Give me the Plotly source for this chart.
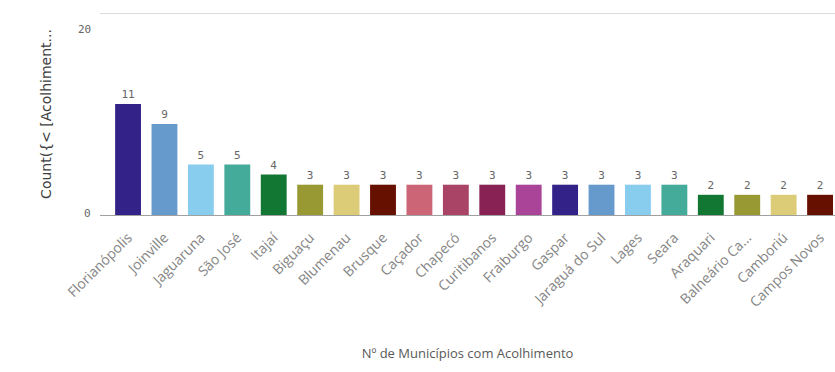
import plotly.graph_objects as go

# Municipalities and number of shelters (acolhimento) per municipality
municipios = [
    "Florianópolis", "Joinville", "Jaguaruna", "São José", "Itajaí",
    "Biguaçu", "Blumenau", "Brusque", "Caçador", "Chapecó",
    "Curitibanos", "Fraiburgo", "Gaspar", "Jaraguá do Sul", "Lages",
    "Seara", "Araquari", "Balneário Ca...", "Camboriú", "Campos Novos",
]
contagem = [11, 9, 5, 5, 4, 3, 3, 3, 3, 3, 3, 3, 3, 3, 3, 3, 2, 2, 2, 2]

y_ticks = [0, 20]
y_tick_labels = ["0", "20"]

palette = [
    "#332288", "#6699cc", "#88ccee", "#44aa99", "#117733", "#999933",
    "#ddcc77", "#661100", "#cc6677", "#aa4466", "#882255", "#aa4499",
]
bar_colors = [palette[i % len(palette)] for i in range(len(municipios))]

fig = go.Figure(
    go.Bar(
        x=list(range(len(municipios))),
        y=contagem,
        marker=dict(color=bar_colors, line=dict(width=0)),
        text=[str(v) for v in contagem],
        textposition="outside",
        textfont=dict(family="DejaVu Sans Mono", size=11, color="#666666"),
        cliponaxis=False,
        showlegend=False,
    )
)

fig.update_layout(
    width=835,
    height=372,
    margin=dict(l=100, r=0, t=13, b=157),
    paper_bgcolor="white",
    plot_bgcolor="white",
    bargap=0.29,
    font=dict(family="Open Sans", color="#595959"),
    xaxis=dict(
        range=[-0.77, 19.41],
        tickmode="array",
        tickvals=list(range(len(municipios))),
        ticktext=municipios,
        tickangle=-45,
        ticklabelstandoff=8,
        tickfont=dict(family="Open Sans", size=14, color="#858585"),
        showgrid=False,
        showline=True,
        linecolor="#a0a0a0",
        linewidth=1,
        ticks="",
        title=dict(
            text="Nº de Municípios com Acolhimento",
            font=dict(family="Open Sans", size=13, color="#595959"),
            standoff=39,
        ),
    ),
    yaxis=dict(
        range=[0, 20],
        tickmode="array",
        tickvals=y_ticks,
        showticklabels=False,
        showgrid=True,
        gridcolor="#d6d6d6",
        zeroline=False,
        title=dict(
            text="Count({< [Acolhiment...",
            font=dict(family="DejaVu Sans", size=14, color="#404040"),
            standoff=44,
        ),
    ),
)

# Top gridline at the axis maximum
fig.add_shape(
    type="line", xref="paper", yref="y",
    x0=0, x1=1, y0=max(y_ticks), y1=max(y_ticks),
    line=dict(color="#cfcfcf", width=1.5),
)

# Y tick labels, kept inside the axis extent
for val, lab in zip(y_ticks, y_tick_labels):
    fig.add_annotation(
        x=-0.01, xref="paper", xanchor="right",
        y=val, yref="y",
        yanchor="top" if val == max(y_ticks) else "middle",
        yshift=-8 if val == max(y_ticks) else 2,
        text=lab, showarrow=False,
        font=dict(family="DejaVu Sans Mono", size=11, color="#666666"),
    )

fig.write_html("out.html")
